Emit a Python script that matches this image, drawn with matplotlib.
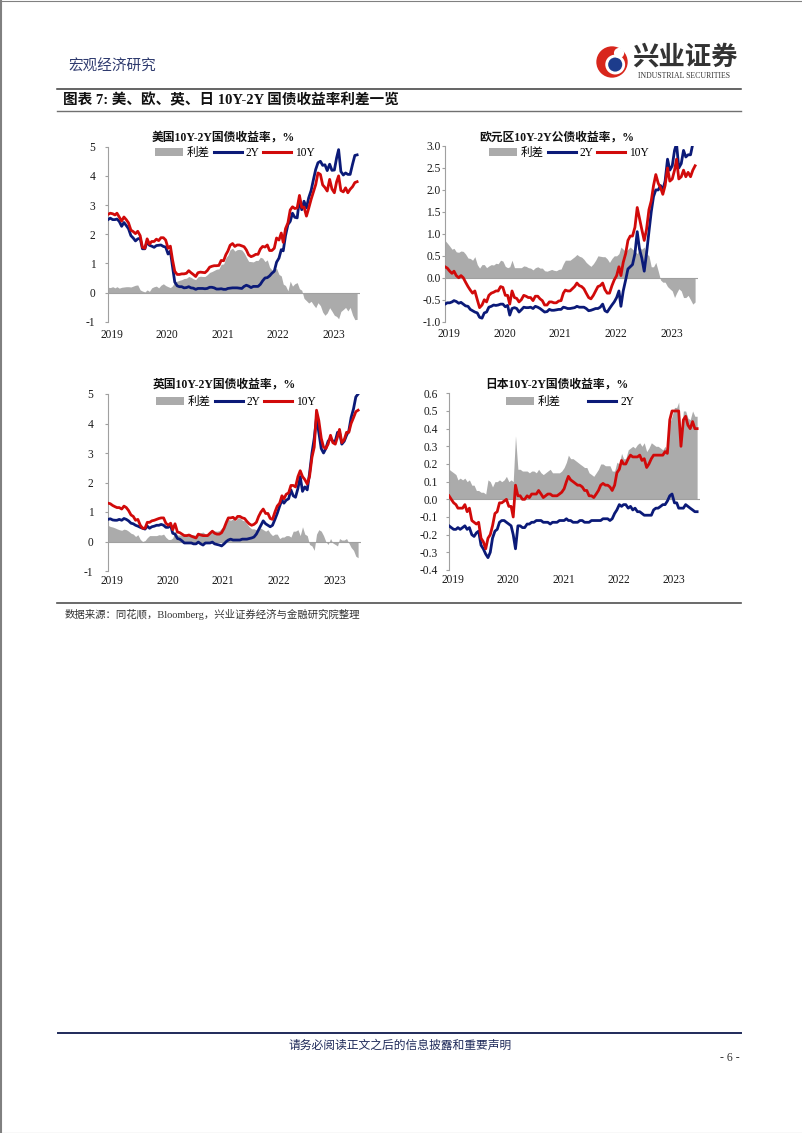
import matplotlib
matplotlib.use("Agg")
import matplotlib.pyplot as plt
import numpy as np
import pandas as pd
from matplotlib.lines import Line2D
from matplotlib.patches import Patch, Circle

plt.rcParams['font.family'] = ['Liberation Serif', 'Noto Sans CJK SC']
plt.rcParams['axes.unicode_minus'] = False

# ---------------- data (semi-monthly: 1st and 16th of each month) ----------------
dates = [pd.Timestamp(y, m, d) for y in range(2019, 2024) for m in range(1, 13) for d in (1, 16)
         if (y, m) <= (2023, 6)] + [pd.Timestamp(2023, 7, 1)]
years = ['2019', '2020', '2021', '2022', '2023']

us_10y = [2.68, 2.72, 2.70, 2.66, 2.72, 2.59, 2.45, 2.59, 2.50, 2.39, 2.14, 2.09, 2.02, 2.10, 1.95, 1.55, 1.52, 1.84, 1.66, 1.75, 1.75, 1.83, 1.78, 1.88,
          1.88, 1.80, 1.52, 1.59, 1.13, 0.73, 0.62, 0.62, 0.64, 0.64, 0.66, 0.75, 0.68, 0.62, 0.55, 0.68, 0.70, 0.69, 0.68, 0.75, 0.87, 0.90, 0.92, 0.92,
          0.93, 1.10, 1.09, 1.30, 1.42, 1.62, 1.68, 1.58, 1.63, 1.63, 1.60, 1.57, 1.46, 1.29, 1.23, 1.26, 1.31, 1.31, 1.49, 1.58, 1.56, 1.63, 1.44, 1.44,
          1.52, 1.87, 1.80, 2.04, 1.72, 2.19, 2.39, 2.83, 2.94, 2.88, 2.90, 3.33, 2.92, 2.93, 2.62, 2.89, 3.20, 3.45, 3.70, 4.10, 4.05, 3.69, 3.60, 3.48,
          3.88, 3.55, 3.42, 3.80, 4.00, 3.50, 3.45, 3.59, 3.42, 3.54, 3.63, 3.77, 3.80]
us_2y = [2.50, 2.55, 2.50, 2.50, 2.52, 2.44, 2.27, 2.40, 2.30, 2.19, 1.95, 1.87, 1.77, 1.84, 1.86, 1.50, 1.50, 1.75, 1.62, 1.59, 1.55, 1.61, 1.62, 1.63,
         1.58, 1.56, 1.32, 1.42, 0.90, 0.36, 0.23, 0.20, 0.20, 0.16, 0.17, 0.20, 0.16, 0.15, 0.11, 0.14, 0.14, 0.14, 0.13, 0.14, 0.18, 0.18, 0.16, 0.12,
         0.12, 0.13, 0.11, 0.11, 0.14, 0.15, 0.16, 0.16, 0.16, 0.15, 0.14, 0.21, 0.25, 0.22, 0.17, 0.21, 0.21, 0.21, 0.28, 0.40, 0.50, 0.51, 0.57, 0.66,
         0.73, 1.04, 1.18, 1.47, 1.43, 1.95, 2.33, 2.44, 2.72, 2.58, 2.56, 3.20, 2.84, 3.13, 2.90, 3.25, 3.50, 3.87, 4.22, 4.45, 4.50, 4.36, 4.38, 4.18,
         4.40, 4.19, 4.20, 4.62, 4.90, 4.15, 4.03, 4.10, 4.05, 4.05, 4.40, 4.70, 4.72]

eu_10y = [0.25, 0.22, 0.15, 0.10, 0.15, 0.05, 0.00, 0.05, 0.00, -0.10, -0.20, -0.28, -0.35, -0.30, -0.50, -0.68, -0.62, -0.50, -0.55, -0.40, -0.35, -0.33, -0.30, -0.30,
          -0.20, -0.22, -0.40, -0.40, -0.60, -0.30, -0.45, -0.47, -0.55, -0.50, -0.40, -0.42, -0.45, -0.45, -0.52, -0.42, -0.42, -0.48, -0.52, -0.62, -0.62, -0.55, -0.55, -0.57,
          -0.57, -0.53, -0.52, -0.35, -0.28, -0.30, -0.30, -0.25, -0.20, -0.12, -0.18, -0.20, -0.25, -0.35, -0.45, -0.48, -0.40, -0.30, -0.20, -0.18, -0.12, -0.27, -0.35, -0.35,
          -0.18, -0.05, 0.05, 0.25, 0.05, 0.35, 0.55, 0.85, 0.95, 0.95, 1.15, 1.60, 1.35, 1.10, 0.85, 1.10, 1.55, 1.75, 2.10, 2.35, 2.15, 2.05, 1.90, 2.10,
          2.50, 2.20, 2.25, 2.45, 2.70, 2.25, 2.30, 2.45, 2.30, 2.40, 2.30, 2.45, 2.55]
eu_2y = [-0.60, -0.57, -0.57, -0.55, -0.52, -0.54, -0.58, -0.56, -0.60, -0.64, -0.65, -0.72, -0.75, -0.78, -0.80, -0.90, -0.92, -0.80, -0.78, -0.67, -0.65, -0.62, -0.63, -0.62,
         -0.60, -0.60, -0.66, -0.63, -0.85, -0.70, -0.68, -0.70, -0.78, -0.73, -0.67, -0.68, -0.68, -0.67, -0.70, -0.65, -0.67, -0.70, -0.74, -0.78, -0.77, -0.72, -0.74, -0.74,
         -0.73, -0.72, -0.72, -0.67, -0.68, -0.70, -0.70, -0.69, -0.68, -0.65, -0.67, -0.67, -0.67, -0.70, -0.75, -0.74, -0.72, -0.70, -0.70, -0.67, -0.60, -0.75, -0.78, -0.70,
         -0.62, -0.55, -0.45, -0.30, -0.65, -0.30, -0.05, 0.20, 0.25, 0.30, 0.55, 1.05, 0.65, 0.45, 0.15, 0.55, 1.05, 1.50, 1.85, 2.00, 2.00, 2.10, 2.00, 2.20,
         2.70, 2.45, 2.55, 2.90, 3.05, 2.50, 2.60, 2.90, 2.75, 2.80, 2.80, 3.05, 3.10]

uk_10y = [1.30, 1.28, 1.22, 1.18, 1.15, 1.15, 1.10, 1.20, 1.15, 1.05, 0.90, 0.85, 0.72, 0.75, 0.55, 0.45, 0.45, 0.65, 0.65, 0.70, 0.72, 0.75, 0.78, 0.80,
          0.80, 0.62, 0.55, 0.62, 0.40, 0.60, 0.32, 0.30, 0.25, 0.20, 0.20, 0.22, 0.18, 0.15, 0.12, 0.25, 0.22, 0.20, 0.20, 0.20, 0.28, 0.35, 0.28, 0.25,
          0.25, 0.30, 0.45, 0.65, 0.80, 0.80, 0.82, 0.75, 0.85, 0.85, 0.80, 0.78, 0.68, 0.60, 0.55, 0.58, 0.65, 0.85, 1.00, 1.10, 0.95, 0.95, 0.78, 0.75,
          1.00, 1.20, 1.30, 1.55, 1.45, 1.60, 1.65, 1.90, 1.90, 1.85, 2.20, 2.40, 2.20, 2.10, 1.95, 2.20, 2.85, 3.20, 4.45, 4.10, 3.50, 3.20, 3.15, 3.30,
          3.60, 3.35, 3.30, 3.55, 3.80, 3.35, 3.45, 3.70, 3.70, 4.00, 4.20, 4.40, 4.45]
uk_2y = [0.75, 0.77, 0.73, 0.72, 0.72, 0.75, 0.72, 0.78, 0.75, 0.70, 0.62, 0.60, 0.55, 0.52, 0.48, 0.45, 0.42, 0.52, 0.45, 0.50, 0.52, 0.55, 0.55, 0.58,
         0.55, 0.48, 0.48, 0.55, 0.28, 0.25, 0.10, 0.08, 0.02, -0.05, -0.05, -0.05, -0.05, -0.08, -0.08, -0.02, -0.08, -0.12, -0.05, -0.05, -0.05, -0.02, -0.08, -0.10,
         -0.12, -0.15, -0.08, 0.00, 0.05, 0.08, 0.05, 0.05, 0.05, 0.05, 0.08, 0.08, 0.08, 0.10, 0.12, 0.15, 0.25, 0.40, 0.55, 0.70, 0.60, 0.55, 0.50, 0.55,
         0.75, 0.95, 1.20, 1.40, 1.30, 1.40, 1.45, 1.75, 1.55, 1.50, 1.80, 2.20, 1.70, 1.85, 1.75, 2.30, 3.00, 3.50, 4.20, 3.70, 3.15, 3.00, 3.15, 3.40,
         3.50, 3.40, 3.40, 3.70, 3.70, 3.30, 3.40, 3.60, 3.75, 4.20, 4.50, 4.90, 5.00]

jp_10y = [0.02, 0.00, -0.02, -0.03, -0.05, -0.05, -0.05, -0.03, -0.07, -0.05, -0.12, -0.13, -0.14, -0.13, -0.22, -0.24, -0.28, -0.22, -0.20, -0.15, -0.08, -0.07, -0.02, -0.02,
          -0.01, 0.00, -0.04, -0.04, -0.10, 0.08, 0.02, 0.02, 0.00, 0.00, 0.02, 0.01, 0.03, 0.03, 0.03, 0.05, 0.03, 0.01, 0.02, 0.03, 0.03, 0.02, 0.02, 0.02,
          0.03, 0.04, 0.06, 0.10, 0.13, 0.11, 0.10, 0.09, 0.08, 0.08, 0.07, 0.05, 0.05, 0.02, 0.02, 0.01, 0.03, 0.05, 0.08, 0.09, 0.08, 0.08, 0.07, 0.05,
          0.08, 0.15, 0.17, 0.22, 0.20, 0.20, 0.23, 0.25, 0.24, 0.24, 0.24, 0.25, 0.22, 0.23, 0.18, 0.20, 0.23, 0.25, 0.25, 0.25, 0.25, 0.25, 0.27, 0.26,
          0.45, 0.50, 0.50, 0.50, 0.50, 0.30, 0.45, 0.47, 0.42, 0.40, 0.44, 0.40, 0.40]
jp_2y = [-0.15, -0.16, -0.17, -0.17, -0.16, -0.17, -0.16, -0.15, -0.17, -0.16, -0.20, -0.21, -0.19, -0.18, -0.26, -0.28, -0.31, -0.33, -0.30, -0.22, -0.18, -0.17, -0.13, -0.12,
         -0.12, -0.13, -0.14, -0.15, -0.20, -0.28, -0.15, -0.15, -0.16, -0.16, -0.14, -0.14, -0.13, -0.13, -0.12, -0.12, -0.12, -0.13, -0.13, -0.13, -0.14, -0.13, -0.13, -0.13,
         -0.12, -0.12, -0.12, -0.11, -0.12, -0.12, -0.13, -0.13, -0.13, -0.12, -0.12, -0.13, -0.13, -0.13, -0.12, -0.12, -0.12, -0.12, -0.12, -0.11, -0.11, -0.11, -0.12, -0.11,
         -0.08, -0.06, -0.03, -0.04, -0.03, -0.03, -0.05, -0.04, -0.06, -0.05, -0.07, -0.07, -0.08, -0.09, -0.09, -0.09, -0.09, -0.06, -0.05, -0.05, -0.04, -0.03, -0.03, -0.01,
         0.02, 0.03, -0.02, -0.02, -0.05, -0.05, -0.05, -0.03, -0.04, -0.05, -0.06, -0.07, -0.07]

titles = ['美国10Y-2Y国债收益率，%', '欧元区10Y-2Y公债收益率，%',
          '英国10Y-2Y国债收益率，%', '日本10Y-2Y国债收益率，%']
legend_labels = ['利差', '2Y', '10Y']

# ---------------- styling ----------------
GRAY = '#ABABAB'
AXC = '#A0A0A0'
BLUE = '#0B1A78'
RED = '#D10A0A'
W, H = 802, 1133

fig = plt.figure(figsize=(8.02, 11.33), dpi=100)


def fx(x):
    return x / W


def fy(y):
    return 1 - y / H


def hline(x0, x1, y, color, lw):
    fig.add_artist(Line2D([fx(x0), fx(x1)], [fy(y), fy(y)], transform=fig.transFigure,
                          color=color, lw=lw))


# page border
fig.add_artist(Line2D([fx(0.8), fx(0.8)], [0, 1], transform=fig.transFigure, color='#808080', lw=1.5))
hline(0, 802, 0.5, '#808080', 0.8)
hline(0, 802, 1132.5, '#808080', 0.8)

# header
fig.text(fx(68), fy(67), '宏观经济研究', family=['Noto Sans CJK SC'], fontsize=10.5,
         color='#2E3A6E', va='center', ha='left')
lax = fig.add_axes([fx(596), fy(78), 32 / W, 32 / H])
lax.set_xlim(0, 1); lax.set_ylim(0, 1); lax.axis('off')
lax.add_patch(Circle((0.5, 0.5), 0.49, fc='#D8261C', ec='none'))
lax.add_patch(Circle((0.6, 0.42), 0.31, fc='white', ec='none'))
lax.add_patch(Circle((0.6, 0.42), 0.22, fc='#1D3C8C', ec='none'))
lax.add_patch(Circle((0.72, 0.78), 0.16, fc='white', ec='none'))
fig.text(fx(632), fy(57), '兴业证券', family=['Noto Sans CJK SC'], fontsize=19,
         fontweight='bold', color='#333333', va='center', ha='left')
fig.text(fx(684), fy(75.5), 'INDUSTRIAL SECURITIES', family=['Liberation Serif'], fontsize=5.6,
         color='#333333', va='center', ha='center')
hline(57, 741, 89, '#3A3A3A', 1.1)
fig.text(fx(63), fy(100), '图表 7: 美、欧、英、日 10Y-2Y 国债收益率利差一览',
         fontsize=10.5, fontweight='bold', color='#111111', va='center', ha='left')
hline(57, 741, 111, '#707070', 1.0)

# source and footer
hline(57, 741, 603, '#505050', 1.2)
fig.text(fx(65), fy(614), '数据来源：同花顺，Bloomberg，兴业证券经济与金融研究院整理',
         fontsize=7.5, color='#333333', va='center', ha='left')
hline(58, 741, 1033, '#1F2A5A', 1.4)
fig.text(fx(400), fy(1045), '请务必阅读正文之后的信息披露和重要声明', family=['Noto Sans CJK SC'],
         fontsize=8.5, color='#1F2A5A', va='center', ha='center')
fig.text(fx(730), fy(1058), '- 6 -', fontsize=8.5, color='#333333', va='center', ha='center')

xtick_pos = [pd.Timestamp(f'{y}-01-27') for y in years]
xlim = (pd.Timestamp('2019-01-01'), pd.Timestamp('2023-07-20'))


def make_chart(box, y10, y2, ylim, yticks, ylabels, ypad, xpad, title, tpos, lpos, show10_legend=True):
    l, r, t, b = box
    ax = fig.add_axes([fx(l), fy(b), (r - l) / W, (b - t) / H])
    y10 = np.array(y10)
    y2 = np.array(y2)
    spread = y10 - y2
    ax.fill_between(dates, 0, spread, color=GRAY, lw=0, zorder=1)
    ax.axhline(0, color=AXC, lw=0.8, zorder=1.5)
    ax.plot(dates, y2, color=BLUE, lw=2.0, zorder=3, solid_joinstyle='round')
    ax.plot(dates, y10, color=RED, lw=2.0, zorder=4, solid_joinstyle='round')
    ax.set_xlim(*xlim)
    ax.set_ylim(*ylim)
    ax.set_yticks(yticks)
    ax.set_yticklabels(ylabels)
    ax.set_xticks(xtick_pos)
    ax.set_xticklabels(years)
    for s in ['top', 'right', 'bottom']:
        ax.spines[s].set_visible(False)
    ax.spines['left'].set_color(AXC)
    ax.spines['left'].set_linewidth(0.8)
    ax.tick_params(axis='y', length=2.5, width=0.8, color=AXC, pad=ypad, labelsize=8.3, labelcolor='#1a1a1a')
    ax.tick_params(axis='x', length=0, pad=xpad, labelsize=8.3, labelcolor='#1a1a1a')
    ax.patch.set_visible(False)
    fig.text(fx(tpos[0]), fy(tpos[1]), title, fontsize=8.5, fontweight='bold',
             ha='center', va='center', color='#111111')
    handles = [Patch(facecolor=GRAY, edgecolor='none'),
               Line2D([], [], color=BLUE, lw=2.2)]
    labels = legend_labels[:2]
    if show10_legend:
        handles.append(Line2D([], [], color=RED, lw=2.2))
        labels = legend_labels
    fig.legend(handles, labels, loc='center', bbox_to_anchor=(fx(lpos[0]), fy(lpos[1])),
               ncol=len(handles), frameon=False, fontsize=8.3, handlelength=2.4,
               handletextpad=0.35, columnspacing=0.35 if show10_legend else 2.4,
               borderaxespad=0, borderpad=0)
    return ax


make_chart((108, 360, 146.7, 321.7), us_10y, us_2y, (-1, 5), [-1, 0, 1, 2, 3, 4, 5],
           ['-1', '0', '1', '2', '3', '4', '5'], 6.5, 5, titles[0], (223, 138), (235, 153))
make_chart((445, 698, 146.0, 321.7), eu_10y, eu_2y, (-1, 3), [-1, -0.5, 0, 0.5, 1, 1.5, 2, 2.5, 3],
           ['-1.0', '-0.5', '0.0', '0.5', '1.0', '1.5', '2.0', '2.5', '3.0'], 0.5, 4.5,
           titles[1], (557, 138), (569, 153))
make_chart((108, 361, 394, 571), uk_10y, uk_2y, (-1, 5), [-1, 0, 1, 2, 3, 4, 5],
           ['-1', '0', '1', '2', '3', '4', '5'], 8.0, 3, titles[2], (224, 385), (236, 402))
make_chart((449, 700, 393.3, 570), jp_10y, jp_2y, (-0.4, 0.6),
           [-0.4, -0.3, -0.2, -0.1, 0, 0.1, 0.2, 0.3, 0.4, 0.5, 0.6],
           ['-0.4', '-0.3', '-0.2', '-0.1', '0.0', '0.1', '0.2', '0.3', '0.4', '0.5', '0.6'],
           5.5, 3, titles[3], (557, 385), (570, 402), show10_legend=False)

fig.savefig('out.png', dpi=100, facecolor='white')
